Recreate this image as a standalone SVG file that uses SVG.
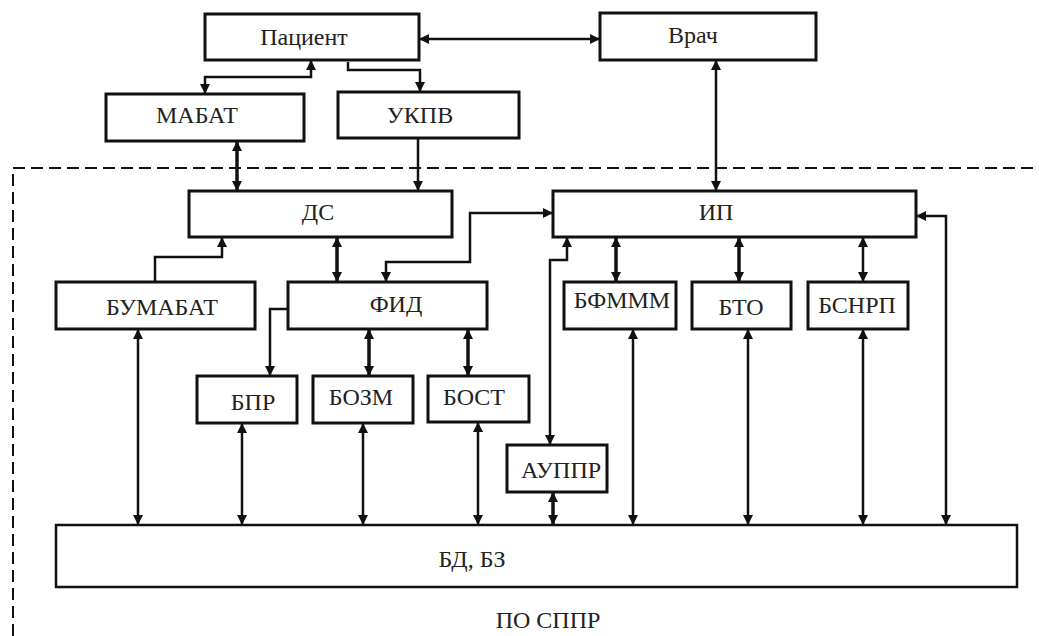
<svg xmlns="http://www.w3.org/2000/svg" width="1039" height="636" viewBox="0 0 1039 636">
<style>
.box{fill:#fff;stroke:#111;stroke-width:3}
.db{fill:#fff;stroke:#111;stroke-width:2.5}
.c{fill:none;stroke:#111;stroke-width:2.5;marker-end:url(#ah)}
.b{marker-start:url(#ah)}
.k{stroke-width:3.5}
.dash{fill:none;stroke:#111;stroke-width:2;stroke-dasharray:12 6}
</style>
<defs>
<marker id="ah" viewBox="0 0 10 10" markerUnits="userSpaceOnUse" markerWidth="10" markerHeight="10" refX="10" refY="5" orient="auto-start-reverse">
<path d="M0,0 L10,5 L0,10 z" fill="#111"/>
</marker>
</defs>
<rect width="1039" height="636" fill="#fff"/>
<g font-family="Liberation Serif" font-size="24" fill="#222" text-anchor="middle">
<g id="boundary">
<path class="dash" d="M13,636 V168 H1039"/>
<text x="548" y="628">ПО СППР</text>
</g>
<g id="connectors">
<path class="c b" d="M419,39 H600"/>
<path class="c b" d="M716,60 V191"/>
<path class="c b" d="M311,60 V77 H205 V94"/>
<path class="c" d="M348,62 V70 H420 V92"/>
<path class="c b k" d="M237,141 V191"/>
<path class="c" d="M418,138 V191"/>
<path class="c b k" d="M337,237 V282"/>
<path class="c" d="M155,282 V257 H222 V237"/>
<path class="c b" d="M553,213 H470 V262 H386 V282"/>
<path class="c" d="M288,309 H270 V376"/>
<path class="c b k" d="M369,329 V376"/>
<path class="c b k" d="M468,329 V376"/>
<path class="c b" d="M138,329 V525"/>
<path class="c b" d="M242,423 V525"/>
<path class="c b" d="M363,423 V525"/>
<path class="c b" d="M478,422 V525"/>
<path class="c b" d="M550,445 V260 H567 V237"/>
<path class="c b k" d="M553,492 V525"/>
<path class="c b k" d="M616,237 V282"/>
<path class="c b k" d="M739,237 V282"/>
<path class="c b" d="M863,237 V282"/>
<path class="c b" d="M633,329 V525"/>
<path class="c b" d="M748,329 V525"/>
<path class="c b" d="M863,329 V525"/>
<path class="c b" d="M946,525 V216 H916"/>
</g>
<g id="patient"><rect class="box" x="205" y="14" width="214" height="46"/><text x="304" y="45">Пациент</text></g>
<g id="doctor"><rect class="box" x="600" y="13" width="216" height="47"/><text x="693" y="43">Врач</text></g>
<g id="mabat"><rect class="box" x="106" y="94" width="198" height="47"/><text x="197" y="123">МАБАТ</text></g>
<g id="ukpv"><rect class="box" x="338" y="92" width="181" height="46"/><text x="420" y="123">УКПВ</text></g>
<g id="ds"><rect class="box" x="189" y="191" width="263" height="46"/><text x="318" y="220">ДС</text></g>
<g id="ip"><rect class="box" x="553" y="191" width="363" height="46"/><text x="716" y="220">ИП</text></g>
<g id="bumabat"><rect class="box" x="56" y="282" width="199" height="47"/><text x="162" y="315">БУМАБАТ</text></g>
<g id="fid"><rect class="box" x="288" y="282" width="199" height="47"/><text x="396" y="312">ФИД</text></g>
<g id="bfmmm"><rect class="box" x="564" y="282" width="112" height="47"/><text x="622" y="308">БФМММ</text></g>
<g id="bto"><rect class="box" x="692" y="282" width="99" height="47"/><text x="741" y="315">БТО</text></g>
<g id="bsnrp"><rect class="box" x="808" y="282" width="100" height="47"/><text x="857" y="313">БСНРП</text></g>
<g id="bpr"><rect class="box" x="197" y="376" width="100" height="47"/><text x="253" y="410">БПР</text></g>
<g id="bozm"><rect class="box" x="313" y="376" width="100" height="47"/><text x="361" y="405">БОЗМ</text></g>
<g id="bost"><rect class="box" x="428" y="376" width="101" height="46"/><text x="474" y="405">БОСТ</text></g>
<g id="auppr"><rect class="box" x="507" y="445" width="100" height="47"/><text x="561" y="478">АУППР</text></g>
<g id="bdbz"><rect class="db" x="56" y="525" width="961" height="62"/><text x="472" y="567">БД, БЗ</text></g>
</g>
</svg>
